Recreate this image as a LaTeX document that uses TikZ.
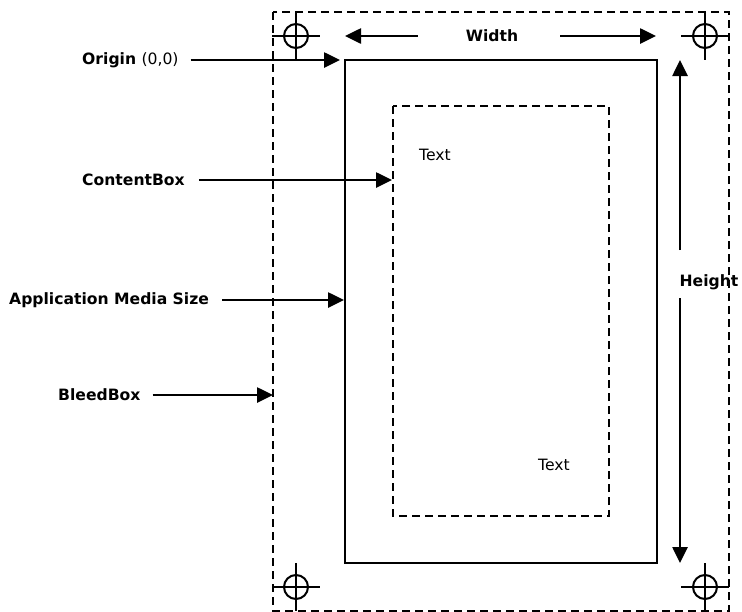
\documentclass[tikz,border=0pt]{standalone}
\usepackage{fontspec}
\setmainfont{DejaVu Sans}
\usetikzlibrary{arrows.meta}
\begin{document}
\begin{tikzpicture}[x=1pt,y=-1pt,
  lbl/.style={font=\fontsize{15.6}{18}\selectfont\bfseries, inner sep=0pt, anchor=west},
  txt/.style={font=\fontsize{15.6}{18}\selectfont, inner sep=0pt},
  arr/.style={line width=2.6pt, -{Triangle[length=16pt,width=15pt]}},
  bleedbox/.style={line width=2.3pt, dash pattern=on 8pt off 5pt},
  contentbox/.style={line width=2.3pt, dash pattern=on 8pt off 5pt},
  mediabox/.style={line width=2.4pt},
  cross/.style={line width=2pt}
]
\useasboundingbox (0,0) rectangle (742,611);
% boxes
\draw[bleedbox] (273,12) rectangle (729,611);
\draw[mediabox] (345,60) rectangle (657,563);
\draw[contentbox] (393,106) rectangle (609,516);
% crop marks
\foreach \cx/\cy/\ya/\yb in {296/36/12/60, 705/36/12/60, 296/587/563/611, 705/587/563/611}{
  \draw[cross] (\cx,\cy) circle[radius=12];
  \draw[cross] (\cx-24,\cy) -- (\cx+24,\cy);
  \draw[cross] (\cx,\ya) -- (\cx,\yb);
}
% texts
\node[txt] (t1) at (435,155) {Text};
\node[txt] (t2) at (554,465) {Text};
% width
\node[txt, font=\fontsize{15.6}{18}\selectfont\bfseries] (w) at (492,36) {Width};
\coordinate (wl) at (345,36);
\coordinate (wr) at (656,36);
\draw[arr] ([xshift=-48pt]w.west) -- (wl);
\draw[arr] ([xshift=42pt]w.east) -- (wr);
% height
\node[txt, font=\fontsize{15.6}{18}\selectfont\bfseries] (h) at (709,282) {Height};
\coordinate (ht) at (680,60);
\coordinate (hb) at (680,563);
\draw[arr] (680,250) -- (ht);
\draw[arr] (680,298) -- (hb);
% left labels
\node[lbl] (o) at (82,60) {Origin \mdseries(0,0)};
\node[lbl] (c) at (82,180) {ContentBox};
\node[lbl] (a) at (9,300) {Application Media Size};
\node[lbl] (b) at (58,395) {BleedBox};
\coordinate (oe) at (340,60);
\coordinate (ce) at (392,180);
\coordinate (ae) at (344,300);
\coordinate (be) at (273,395);
\draw[arr] ([xshift=12pt]o.east) -- (oe);
\draw[arr] ([xshift=14pt]c.east) -- (ce);
\draw[arr] ([xshift=13pt]a.east) -- (ae);
\draw[arr] ([xshift=12pt]b.east) -- (be);
\end{tikzpicture}
\end{document}
